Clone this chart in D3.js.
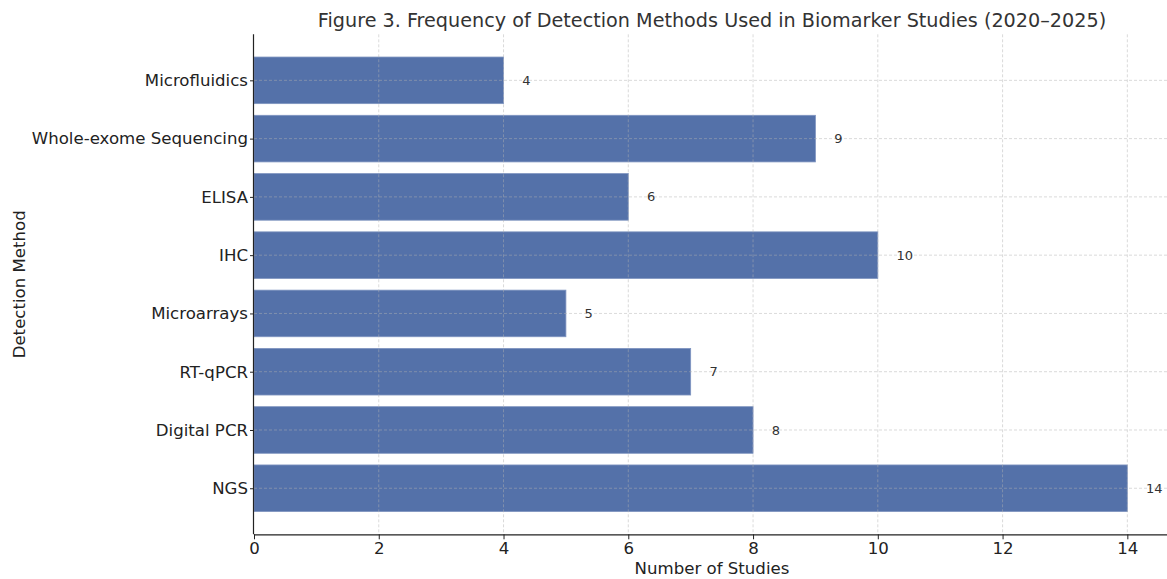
<!DOCTYPE html>
<html>
<head>
<meta charset="utf-8">
<script src="https://cdn.jsdelivr.net/npm/d3@7"></script>
<style>
  html, body { margin: 0; padding: 0; background: #fff; }
  svg { display: block; font-family: "DejaVu Sans", sans-serif; }
</style>
</head>
<body>
<svg id="chart" width="1167" height="579"></svg>
<script>
// Detection methods, bottom to top
const methods = ["NGS", "Digital PCR", "RT-qPCR", "Microarrays", "IHC", "ELISA", "Whole-exome Sequencing", "Microfluidics"];
const studyCounts = [14, 8, 7, 5, 10, 6, 9, 4];
const xTicks = [0, 2, 4, 6, 8, 10, 12, 14];

const titleText = "Figure 3. Frequency of Detection Methods Used in Biomarker Studies (2020–2025)";
const xLabel = "Number of Studies";
const yLabel = "Detection Method";

const svg = d3.select("#chart");
const plot = { left: 254, right: 1171, top: 34.3, bottom: 534.3 };

const x = d3.scaleLinear().domain([0, 14.7]).range([plot.left, plot.right]);
const y = d3.scaleLinear().domain([-0.79, methods.length - 1 + 0.79]).range([plot.bottom, plot.top]);
const barH = y(0) - y(0.8);

// bars
svg.append("g").selectAll("rect")
  .data(methods)
  .join("rect")
  .attr("x", x(0))
  .attr("y", (d, i) => y(i) - barH / 2)
  .attr("width", (d, i) => x(studyCounts[i]) - x(0))
  .attr("height", barH)
  .attr("fill", "#5471a9")
  .attr("stroke", "#7f95c0")
  .attr("stroke-width", 0.8);

// dashed grid drawn over the bars
const grid = svg.append("g").attr("stroke", "#b0b0b0").attr("stroke-opacity", 0.6)
  .attr("stroke-dasharray", "3,2").attr("stroke-width", 0.8);
grid.selectAll("line.vx").data(xTicks.filter(t => t > 0)).join("line")
  .attr("x1", d => x(d)).attr("x2", d => x(d))
  .attr("y1", plot.top).attr("y2", plot.bottom);
grid.selectAll("line.hy").data(methods).join("line")
  .attr("x1", plot.left).attr("x2", 1167)
  .attr("y1", (d, i) => y(i)).attr("y2", (d, i) => y(i));

// value labels
svg.append("g").selectAll("text")
  .data(methods)
  .join("text")
  .attr("x", (d, i) => x(studyCounts[i] + 0.3))
  .attr("y", (d, i) => y(i))
  .attr("dy", "0.35em")
  .attr("font-size", 13)
  .attr("fill", "#333")
  .text((d, i) => studyCounts[i]);

// x axis
const xAxis = svg.append("g")
  .attr("transform", `translate(0,${plot.bottom})`)
  .call(d3.axisBottom(x).tickValues(xTicks).tickFormat(d3.format("d")).tickSize(5).tickPadding(3));
xAxis.select(".domain").attr("stroke", "#222").attr("stroke-width", 1.2).attr("d", `M${plot.left},0.5H1167`);
xAxis.selectAll(".tick line").attr("stroke", "#222");
xAxis.selectAll(".tick text").attr("font-size", 16.6).attr("fill", "#222").attr("font-family", "DejaVu Sans");

// y axis
const yAxis = svg.append("g")
  .attr("transform", `translate(${plot.left},0)`)
  .call(d3.axisLeft(y).tickValues(d3.range(methods.length)).tickFormat(i => methods[i]).tickSize(4).tickPadding(2));
yAxis.select(".domain").attr("stroke", "#222").attr("stroke-width", 1.2).attr("d", `M-0.5,${plot.top}V${plot.bottom}`);
yAxis.selectAll(".tick line").attr("stroke", "#222");
yAxis.selectAll(".tick text").attr("font-size", 16.6).attr("fill", "#222").attr("font-family", "DejaVu Sans");

// title and axis labels
svg.append("text")
  .attr("x", 712).attr("y", 27)
  .attr("text-anchor", "middle")
  .attr("font-size", 19.2)
  .attr("fill", "#333")
  .text(titleText);

svg.append("text")
  .attr("x", 712).attr("y", 574)
  .attr("text-anchor", "middle")
  .attr("font-size", 16.6)
  .attr("fill", "#222")
  .text(xLabel);

svg.append("text")
  .attr("transform", `translate(25,${(plot.top + plot.bottom) / 2}) rotate(-90)`)
  .attr("text-anchor", "middle")
  .attr("font-size", 16.6)
  .attr("fill", "#222")
  .text(yLabel);
</script>
</body>
</html>
